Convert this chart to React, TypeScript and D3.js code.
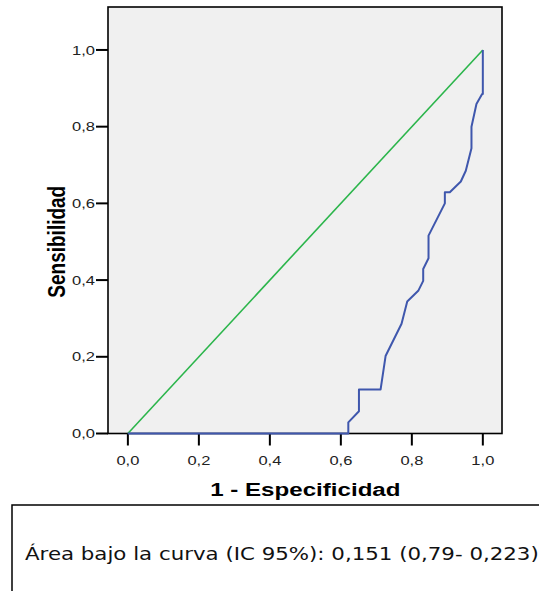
import * as d3 from 'd3';

// ROC curve (1 - especificidad, sensibilidad)
const fpr = [0, 0.621, 0.621, 0.651, 0.651, 0.712, 0.726, 0.771, 0.787, 0.818, 0.832, 0.832, 0.847, 0.847, 0.893, 0.893, 0.907, 0.938, 0.952, 0.968, 0.968, 0.982, 0.998, 1, 1];
const tpr = [0, 0, 0.029, 0.058, 0.115, 0.115, 0.202, 0.286, 0.344, 0.372, 0.398, 0.429, 0.457, 0.516, 0.6, 0.629, 0.629, 0.657, 0.685, 0.744, 0.8, 0.859, 0.885, 0.885, 1];
const refLine = [0, 1];
const ticks = [0, 0.2, 0.4, 0.6, 0.8, 1];
const tickLabels = ['0,0', '0,2', '0,4', '0,6', '0,8', '1,0'];
const xTitle = '1 - Especificidad';
const yTitle = 'Sensibilidad';
const note = 'Área bajo la curva (IC 95%): 0,151 (0,79- 0,223)';

const W = 539;
const H = 591;
const plot = { left: 108, right: 502, top: 7, bottom: 433.5 };
// the source image is stretched sideways, so the text is too
const sx = 1.27;

export default function App() {
  const x = d3.scaleLinear().domain([-0.056, 1.054]).range([plot.left, plot.right]);
  const y = d3.scaleLinear().domain([0, 1.112]).range([plot.bottom, plot.top]);

  const line = d3.line<number>()
    .x((_, i) => x(fpr[i]))
    .y(d => y(d));
  const diag = d3.line<number>()
    .x(d => x(d))
    .y(d => y(d));

  const tickFont = 'Liberation Sans, Arial, sans-serif';
  const noteFont = 'DejaVu Sans, Verdana, sans-serif';

  return (
    <svg width={W} height={H} style={{ position: 'absolute', left: 0, top: 0, background: '#fff' }}>
      <rect
        x={plot.left}
        y={plot.top}
        width={plot.right - plot.left}
        height={plot.bottom - plot.top}
        fill="#f0f0f0"
        stroke="#000"
        strokeWidth={1.6}
      />

      {/* x ticks */}
      {ticks.map((t, i) => (
        <g key={'x' + t}>
          <line x1={x(t)} x2={x(t)} y1={plot.bottom} y2={plot.bottom + 12} stroke="#000" strokeWidth={2} />
          <text
            transform={`translate(${x(t)},465) scale(${sx},1)`}
            textAnchor="middle"
            fontFamily={tickFont}
            fontSize={13}
            fill="#222"
          >
            {tickLabels[i]}
          </text>
        </g>
      ))}

      {/* y ticks */}
      {ticks.map((t, i) => (
        <g key={'y' + t}>
          <line x1={plot.left - 12} x2={plot.left} y1={y(t)} y2={y(t)} stroke="#000" strokeWidth={2} />
          <text
            transform={`translate(95,${y(t)}) scale(${sx},1)`}
            dy="0.36em"
            textAnchor="end"
            fontFamily={tickFont}
            fontSize={13}
            fill="#222"
          >
            {tickLabels[i]}
          </text>
        </g>
      ))}

      <path d={diag(refLine) || ''} fill="none" stroke="#2bb54b" strokeWidth={1.6} />
      <path d={line(tpr) || ''} fill="none" stroke="#3f57ad" strokeWidth={2} strokeLinejoin="round" />

      <text
        transform={`translate(${(x(0) + x(1)) / 2},496) scale(${sx},1)`}
        textAnchor="middle"
        fontFamily={tickFont}
        fontWeight="bold"
        fontSize={19}
        fill="#000"
      >
        {xTitle}
      </text>
      <text
        transform={`translate(65,${(y(0) + y(1)) / 2}) scale(${sx},1) rotate(-90)`}
        textAnchor="middle"
        fontFamily={tickFont}
        fontWeight="bold"
        fontSize={19}
        fill="#000"
      >
        {yTitle}
      </text>

      <rect x={12} y={505} width={560} height={120} fill="#fff" stroke="#000" strokeWidth={1.5} />
      <text transform={`translate(25,560) scale(${sx},1)`} fontFamily={noteFont} fontSize={16.8} fill="#111">
        {note}
      </text>
    </svg>
  );
}
